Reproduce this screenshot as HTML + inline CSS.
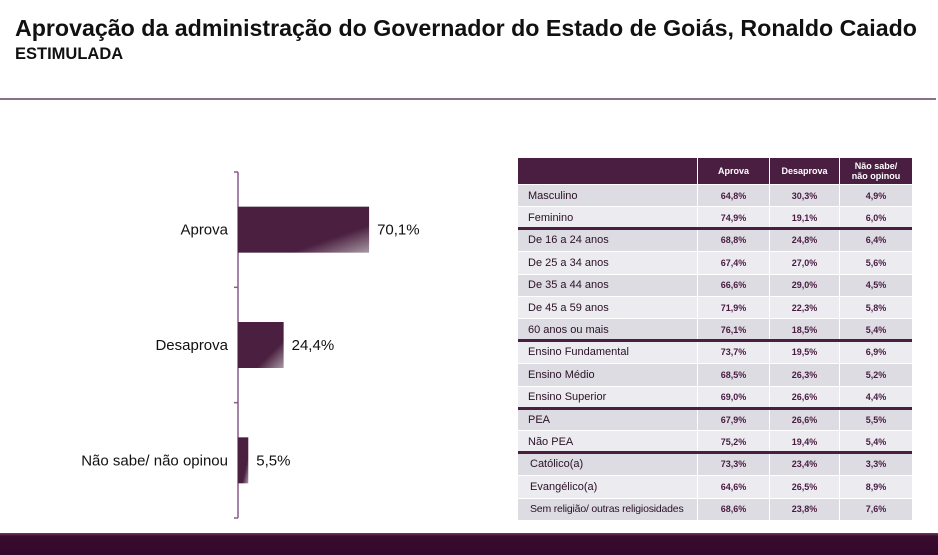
<!DOCTYPE html>
<html><head><meta charset="utf-8">
<style>
body{margin:0;width:938px;height:555px;background:#fff;position:relative;overflow:hidden;font-family:"Liberation Sans",Arial,sans-serif}
.t1{position:absolute;left:15px;top:15px;font-size:23.2px;font-weight:bold;color:#111;white-space:nowrap}
.t2{position:absolute;left:15px;top:45px;font-size:16.5px;font-weight:bold;color:#111}
.hr{position:absolute;left:0;top:98px;width:936px;height:2px;background:#8a7088}
.foot{position:absolute;left:0;top:533px;width:938px;height:22px;background:linear-gradient(#7a3a6a 0,#3a0c30 3px,#33082b)}
.cell{position:absolute;box-sizing:border-box;font-size:11px;color:#2a1026;display:flex;align-items:center;white-space:nowrap;overflow:hidden}
.v{justify-content:center;font-size:9px;font-weight:bold;color:#4a1a42}
.hd{position:absolute;background:#4a1e40;color:#fff;font-size:9px;font-weight:bold;display:flex;align-items:center;justify-content:center;text-align:center;line-height:10px}
.sep{position:absolute;left:518px;width:394px;height:3px;background:#4a1e40}
</style></head><body>
<div class="t1">Aprovação da administração do Governador do Estado de Goiás, Ronaldo Caiado</div>
<div class="t2">ESTIMULADA</div>
<div class="hr"></div>
<svg id="bar" width="938" height="555" style="position:absolute;left:0;top:0">
<defs><linearGradient id="g" x1="0" y1="0" x2="1" y2="1"><stop offset="0.7" stop-color="#4a1f40"/><stop offset="1" stop-color="#a89aa4"/></linearGradient></defs>
</svg>
<div id="tbl"></div>
<div class="foot"></div>
<script>
const categories=["Aprova","Desaprova","Não sabe/ não opinou"];
const values=[70.1,24.4,5.5];
const valueLabels=["70,1%","24,4%","5,5%"];
const rowLabels=["Masculino","Feminino","De 16 a 24 anos","De 25 a 34 anos","De 35 a 44 anos","De 45 a 59 anos","60 anos ou mais","Ensino Fundamental","Ensino Médio","Ensino Superior","PEA","Não PEA","Católico(a)","Evangélico(a)","Sem religião/ outras religiosidades"];
const aprova=["64,8%","74,9%","68,8%","67,4%","66,6%","71,9%","76,1%","73,7%","68,5%","69,0%","67,9%","75,2%","73,3%","64,6%","68,6%"];
const desaprova=["30,3%","19,1%","24,8%","27,0%","29,0%","22,3%","18,5%","19,5%","26,3%","26,6%","26,6%","19,4%","23,4%","26,5%","23,8%"];
const naoSabe=["4,9%","6,0%","6,4%","5,6%","4,5%","5,8%","5,4%","6,9%","5,2%","4,4%","5,5%","5,4%","3,3%","8,9%","7,6%"];
const groupEnds=[1,6,9,11];

const ns="http://www.w3.org/2000/svg";
const svg=document.getElementById('bar');
const x0=238,yTop=172,yBottom=518,scale=1.87;
const band=(yBottom-yTop)/categories.length;
const xs=v=>x0+v*scale;
function mk(t,a){const e=document.createElementNS(ns,t);for(const k in a)e.setAttribute(k,a[k]);svg.appendChild(e);return e;}
const ax=mk('line',{x1:x0,y1:yTop,x2:x0,y2:yBottom,stroke:'#8a5a88','stroke-width':1.5});


for(let i=0;i<=categories.length;i++){
 const y=yTop+i*band;
 const tk=mk('line',{x1:x0-4,y1:y,x2:x0,y2:y,stroke:'#8a5a88','stroke-width':1.5});
 
 
}
categories.forEach((c,i)=>{
 const cy=yTop+band*(i+0.5);
 const r=mk('rect',{x:x0,y:cy-23,width:xs(values[i])-x0,height:46,fill:'url(#g)'});
 
 
 const l=mk('text',{x:228,y:cy+5,'text-anchor':'end','font-size':15,fill:'#111'});l.textContent=c;
 
 
 const v=mk('text',{x:xs(values[i])+8,y:cy+5,'font-size':15,fill:'#111'});v.textContent=valueLabels[i];
 
 
});

const tbl=document.getElementById('tbl');
const cols=[[518,179],[698,71],[770,69],[840,72]];
const heads=["","Aprova","Desaprova","Não sabe/<br>não opinou"];
heads.forEach((h,j)=>{
 const d=document.createElement('div');d.className='hd';
 d.style.cssText=`left:${cols[j][0]}px;top:158px;width:${cols[j][1]}px;height:26px`;
 d.innerHTML=h;
 
 
 tbl.appendChild(d);
});
const rh=22.4;
rowLabels.forEach((lab,i)=>{
 const y=185+i*rh;
 const bg=i%2==0?'#dcdce2':'#ebebf0';
 const vals=[lab,aprova[i],desaprova[i],naoSabe[i]];
 vals.forEach((t,j)=>{
  const d=document.createElement('div');
  d.className='cell'+(j?' v':'');
  d.style.cssText=`left:${cols[j][0]}px;top:${y}px;width:${cols[j][1]}px;height:${rh-1}px;background:${bg};`+(j==0?`padding-left:${i>=12?12:10}px;`+(i==14?'font-size:10.5px;letter-spacing:-0.2px;':''):'');
  d.textContent=t;
  
  
  tbl.appendChild(d);
 });
});
groupEnds.forEach(g=>{
 const s=document.createElement('div');s.className='sep';
 s.style.top=(185+(g+1)*rh-2.5)+'px';
 
 
 tbl.appendChild(s);
});
</script>
</body></html>
